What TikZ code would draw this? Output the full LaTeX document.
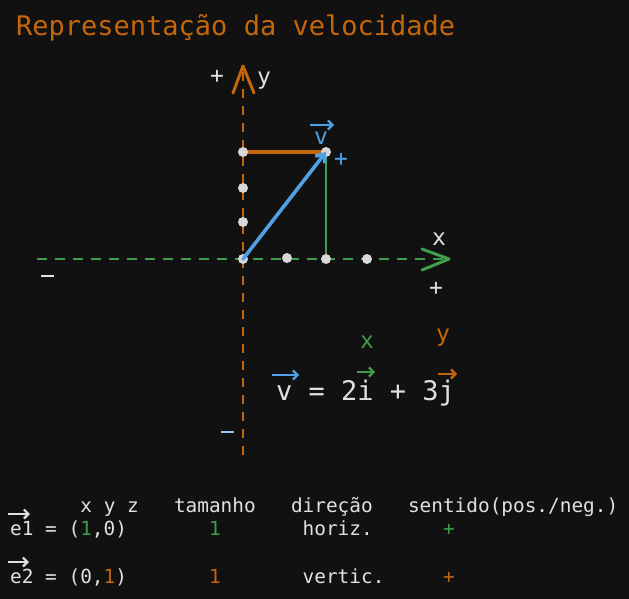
\documentclass[tikz,border=0pt]{standalone}
\usepackage{fontspec}
\setmonofont{DejaVu Sans Mono}
\usetikzlibrary{arrows.meta}
\definecolor{bg}{HTML}{111111}
\definecolor{orng}{HTML}{C4660A}
\definecolor{grn}{HTML}{3E9E4C}
\definecolor{blu}{HTML}{4FA0E4}
\definecolor{wht}{HTML}{E0E0E0}
\definecolor{dotc}{HTML}{D8D8D8}
\tikzset{
  lbl/.style={font=\fontsize{23}{26}\selectfont\ttfamily, inner sep=0pt, anchor=base west, text=wht},
  eqn/.style={font=\fontsize{27}{30}\selectfont\ttfamily, inner sep=0pt, anchor=base west, text=wht},
  tbl/.style={font=\fontsize{19.4}{22}\selectfont\ttfamily, inner sep=0pt, anchor=base west, text=wht},
  dotn/.style={circle, fill=dotc, minimum size=10pt, inner sep=0pt},
  axisy/.style={orng, line width=2.8pt, dash pattern=on 9pt off 8pt},
  axisx/.style={grn, line width=2.8pt, dash pattern=on 10pt off 8pt},
  headline/.style={line width=3pt, line cap=round, line join=round},
  small arrow/.style={line width=2.2pt, -{Straight Barb[length=4.5pt,width=9pt]}},
}
\begin{document}
\begin{tikzpicture}[x=1pt,y=-1pt]
\fill[bg] (0,0) rectangle (629,599);
\useasboundingbox (0,0) rectangle (629,599);
% title
\node[eqn, text=orng] (title) at (16,36) {Representação da velocidade};
% coordinates
\coordinate (ybot) at (243,455);
\coordinate (ytop) at (243,66);
\coordinate (ytipl) at (233,93);
\coordinate (ytipr) at (254,93);
\coordinate (xleft) at (37,259);
\coordinate (xright) at (449,259);
\coordinate (xtipu) at (422,249);
\coordinate (xtipd) at (422,270);
\coordinate (o) at (243,259);
\coordinate (x1) at (287,258);
\coordinate (x2) at (326,259);
\coordinate (x3) at (367,259);
\coordinate (y1) at (243,222);
\coordinate (y2) at (243,188);
\coordinate (y3) at (243,152);
\coordinate (vp) at (326,152);
% axes
\draw[axisy] (ybot) -- (ytop);
\draw[orng, headline] (ytipl) -- (ytop) -- (ytipr);
\draw[axisx] (xleft) -- (xright);
\draw[grn, headline] (xtipu) -- (xright) -- (xtipd);
% components
\draw[orng, line width=3.2pt] (y3) -- (vp);
\draw[grn, line width=2.6pt] (vp) -- (x2);
% dots
\foreach \c in {o,x1,x2,x3,y1,y2,y3,vp} \node[dotn] (d\c) at (\c) {};
% vector
\draw[blu, line width=3.6pt, line cap=round, -{Straight Barb[length=7pt,width=12pt]}] (o) -- (vp);
% labels
\node[lbl] (plusy) at (210,84) {+};
\node[lbl] (laby) at (257,85) {y};
\node[lbl] (labx) at (432,245) {x};
\node[lbl] (plusx) at (429,295) {+};
\node[lbl, text=blu] (labv) at (314,145) {v};
\coordinate (va) at (310,125);
\coordinate (vb) at (334,125);
\draw[blu, small arrow] (va) -- (vb);
\node[lbl, text=blu] (plusv) at (334,167) {+};
\coordinate (m1a) at (41,276);
\coordinate (m1b) at (54,276);
\draw[wht, line width=2.4pt] (m1a) -- (m1b);
\coordinate (m2a) at (221,432);
\coordinate (m2b) at (234,432);
\draw[blu!60!white, line width=2.6pt] (m2a) -- (m2b);
\node[lbl, text=grn] (gx) at (360,348) {x};
\node[lbl, text=orng] (oy) at (436,341) {y};
% equation
\node[eqn] (eq) at (276,400) {v = 2i + 3j};
\coordinate (ea) at (272,375);
\coordinate (eb) at (299,375);
\draw[blu, small arrow] (ea) -- (eb);
\coordinate (ia) at (357,372);
\coordinate (ib) at (375,372);
\draw[grn, small arrow] (ia) -- (ib);
\coordinate (ja) at (438,374);
\coordinate (jb) at (457,374);
\draw[orng, small arrow] (ja) -- (jb);
% table
\node[tbl] (hxyz) at (80.2,512) {x y z};
\node[tbl] (htam) at (173.8,512) {tamanho};
\node[tbl] (hdir) at (290.8,512) {direção};
\node[tbl] (hsen) at (407.8,512) {sentido(pos./neg.)};
\node[tbl] (e1) at (10,535) {e1 = (\textcolor{grn}{1},0)};
\node[tbl, text=grn] (e1t) at (208.9,535) {1};
\node[tbl] (e1d) at (302.5,535) {horiz.};
\node[tbl, text=grn] (e1s) at (442.9,535) {+};
\node[tbl] (e2) at (10,583) {e2 = (0,\textcolor{orng}{1})};
\node[tbl, text=orng] (e2t) at (208.9,583) {1};
\node[tbl] (e2d) at (302.5,583) {vertic.};
\node[tbl, text=orng] (e2s) at (442.9,583) {+};
\coordinate (a1a) at (8,514);
\coordinate (a1b) at (30,514);
\draw[wht, small arrow] (a1a) -- (a1b);
\coordinate (a2a) at (8,562);
\coordinate (a2b) at (29,562);
\draw[wht, small arrow] (a2a) -- (a2b);
\end{tikzpicture}
\end{document}
